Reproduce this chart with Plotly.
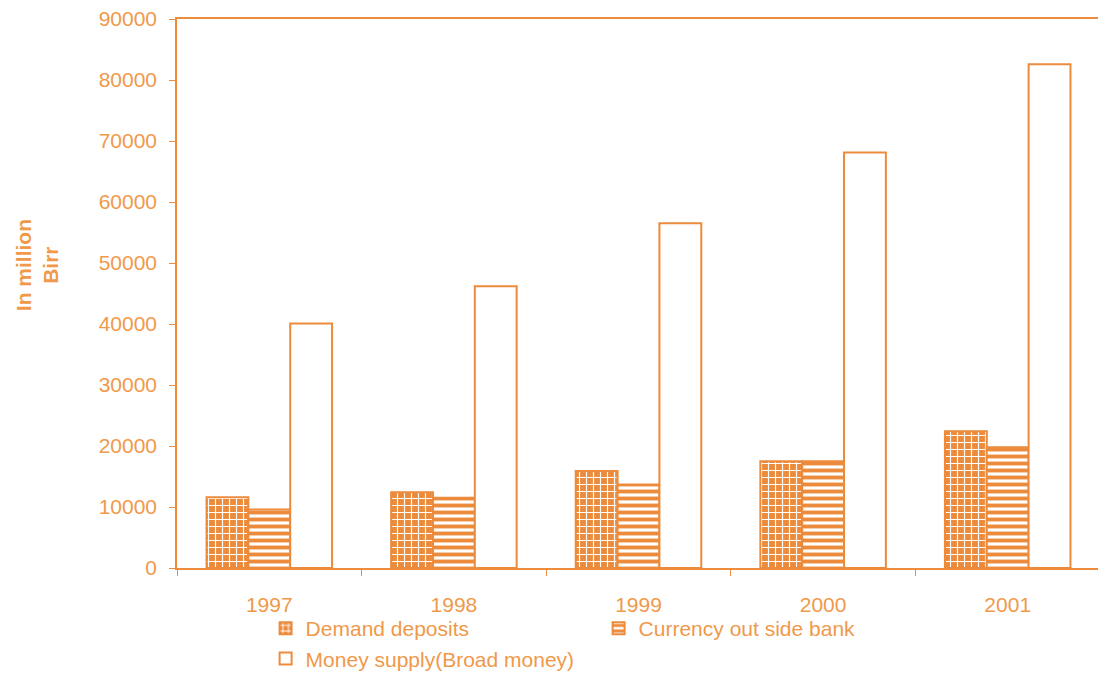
import plotly.graph_objects as go

years = ["1997", "1998", "1999", "2000", "2001"]
demand_deposits = [11600, 12400, 15900, 17500, 22400]
currency_outside = [9600, 11500, 13700, 17500, 19800]
money_supply = [40100, 46200, 56500, 68100, 82600]
y_ticks = [0, 10000, 20000, 30000, 40000, 50000, 60000, 70000, 80000, 90000]

ORANGE = "#EC8B3C"
TEXT = "#F0994A"
FONT = "Liberation Sans, Arial, sans-serif"
FS = 21

fig = go.Figure()
fig.add_trace(go.Bar(
    x=years, y=demand_deposits, name="Demand deposits",
    marker=dict(color=ORANGE, line=dict(color=ORANGE, width=2),
                pattern=dict(shape="+", fgcolor="white", bgcolor=ORANGE,
                             size=7, solidity=0.3, fillmode="replace")),
))
fig.add_trace(go.Bar(
    x=years, y=currency_outside, name="Currency out side bank",
    marker=dict(color="white", line=dict(color=ORANGE, width=2),
                pattern=dict(shape="-", fgcolor=ORANGE, bgcolor="white",
                             size=7, solidity=0.55, fillmode="replace")),
))
fig.add_trace(go.Bar(
    x=years, y=money_supply, name="Money supply(Broad money)",
    marker=dict(color="white", line=dict(color=ORANGE, width=2)),
))

fig.add_annotation(
    text="<b>In million<br>Birr</b>", xref="paper", yref="paper",
    x=-0.152, y=0.551, xanchor="center", yanchor="middle", textangle=-90,
    showarrow=False, font=dict(family=FONT, size=FS, color=TEXT),
)

fig.update_layout(
    width=1098, height=675,
    margin=dict(l=169, r=6, t=11, b=115, autoexpand=False),
    paper_bgcolor="white", plot_bgcolor="white",
    barmode="group", bargap=0.32, bargroupgap=0,
    font=dict(family=FONT, size=FS, color=TEXT),
    showlegend=True,
    legend=dict(orientation="h", x=0.096, xanchor="left", y=-0.073, yanchor="top",
                entrywidth=288, entrywidthmode="pixels", bgcolor="rgba(0,0,0,0)",
                font=dict(family=FONT, size=FS, color=TEXT),
                itemwidth=30, tracegroupgap=0, traceorder="normal"),
    xaxis=dict(showline=True, linecolor=ORANGE, linewidth=1.5, mirror=True,
               ticks="outside", tickson="boundaries", ticklen=6, tickcolor=ORANGE,
               showgrid=False, tickfont=dict(size=FS, color=TEXT), ticklabelstandoff=17,
               automargin=False),
    yaxis=dict(range=[0, 90000], tickvals=y_ticks, showline=True, linecolor=ORANGE,
               linewidth=1.5, mirror=True, ticks="outside", ticklen=6, tickcolor=ORANGE,
               showgrid=False, zeroline=False, tickformat="d",
               tickfont=dict(size=FS, color=TEXT), ticklabelstandoff=8,
               ticklabeloverflow="allow", automargin=False),
)

fig.write_html("out.html")
